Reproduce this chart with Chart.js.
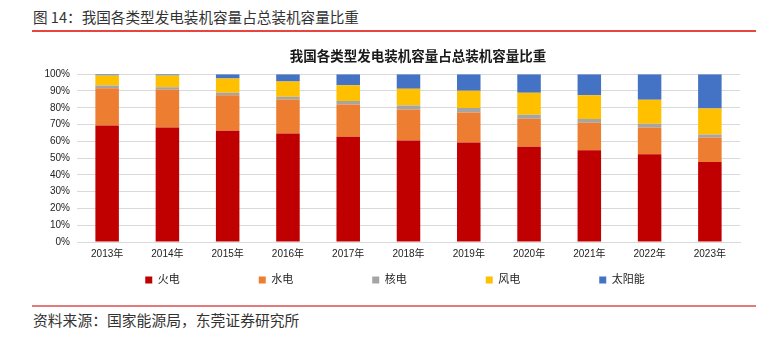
<!DOCTYPE html>
<html>
<head>
<meta charset="utf-8">
<script src="https://cdn.jsdelivr.net/npm/chart.js@4/dist/chart.umd.min.js"></script>
<style>
  html, body { margin: 0; padding: 0; background: #fff; }
  body { width: 776px; height: 337px; position: relative; overflow: hidden;
         font-family: "Noto Sans CJK SC", "Liberation Sans", sans-serif; color: #333; }
  .fig-title { position: absolute; left: 33px; top: 7px; font-size: 14.6px; line-height: 20px; }
  .line { position: absolute; left: 32px; width: 724px; height: 2px; }
  .line.top { top: 30px; background: #e8453f; }
  .line.bottom { top: 305px; background: #e27c7c; }
  .source { position: absolute; left: 33px; top: 310px; font-size: 14.8px; line-height: 20px; }
  .wrap { position: absolute; left: 0; top: 36px; width: 776px; height: 262px; }
</style>
</head>
<body>
<div class="fig-title">图 14：我国各类型发电装机容量占总装机容量比重</div>
<div class="line top"></div>
<div class="wrap"><canvas id="capChart"></canvas></div>
<div class="line bottom"></div>
<div class="source">资料来源：国家能源局，东莞证券研究所</div>

<script>
const years = ['2013年', '2014年', '2015年', '2016年', '2017年', '2018年', '2019年', '2020年', '2021年', '2022年', '2023年'];

// share of total installed capacity, %
const thermal = [69.5, 68.3, 66.3, 64.7, 62.7, 60.5, 59.3, 56.7, 54.7, 52.3, 47.7];
const hydro   = [22.1, 22.5, 21.1, 20.2, 19.3, 18.5, 17.9, 16.8, 16.4, 16.0, 14.6];
const nuclear = [1.6, 1.4, 1.6, 1.7, 2.1, 2.4, 2.7, 2.4, 2.2, 2.2, 1.8];
const wind    = [6.0, 7.0, 8.4, 9.0, 9.3, 9.9, 10.3, 13.0, 14.1, 14.2, 15.4];
const solar   = [0.8, 0.8, 2.6, 4.4, 6.6, 8.7, 9.8, 11.1, 12.6, 15.3, 20.5];

const FONT = "'Liberation Sans', 'Noto Sans CJK SC', sans-serif";
const LEGEND_PAD = 79;

// move title / legend to where the original has them
const nudge = {
    id: 'nudge',
    afterLayout(chart) {
        const t = chart.titleBlock;
        t.left += 48; t.right += 48;
        const lg = chart.legend;
        lg.left += 25; lg.right += 25;
        lg.top = lg.bottom - 23.5 - LEGEND_PAD;
    }
};

const ctx = document.getElementById('capChart').getContext('2d');

const capChart = new Chart(ctx, {
    type: 'bar',
    data: {
        labels: years,
        datasets: [
            { label: '火电', data: thermal, backgroundColor: '#c00000' },
            { label: '水电', data: hydro, backgroundColor: '#ed7d31' },
            { label: '核电', data: nuclear, backgroundColor: '#a5a5a5' },
            { label: '风电', data: wind, backgroundColor: '#ffc000' },
            { label: '太阳能', data: solar, backgroundColor: '#4472c4' }
        ]
    },
    options: {
        responsive: true,
        maintainAspectRatio: false,
        animation: false,
        datasets: { bar: { barPercentage: 0.39, categoryPercentage: 1 } },
        layout: { padding: { left: 0, right: 36, top: 0, bottom: 0 } },
        plugins: {
            title: {
                display: true,
                text: '我国各类型发电装机容量占总装机容量比重',
                color: '#1a1a1a',
                font: { family: FONT, size: 13.5, weight: 'bold' },
                padding: { top: 13, bottom: 9 }
            },
            legend: {
                position: 'bottom',
                maxHeight: 32,
                labels: {
                    boxWidth: 7,
                    boxHeight: 7,
                    padding: LEGEND_PAD,
                    color: '#222',
                    font: { family: FONT, size: 11 }
                }
            },
            tooltip: { enabled: false }
        },
        scales: {
            x: {
                stacked: true,
                grid: { display: false, drawTicks: false },
                border: { color: '#d9d9d9' },
                ticks: { color: '#222', padding: 6, font: { family: FONT, size: 10 } }
            },
            y: {
                stacked: true,
                min: 0,
                max: 100,
                afterFit: s => { s.width = 77; },
                grid: { color: '#d9d9d9', drawTicks: false },
                border: { display: false },
                ticks: {
                    stepSize: 10,
                    padding: 7,
                    color: '#222',
                    font: { family: FONT, size: 10 },
                    callback: v => v + '%'
                }
            }
        }
    },
    plugins: [nudge]
});
</script>
</body>
</html>
